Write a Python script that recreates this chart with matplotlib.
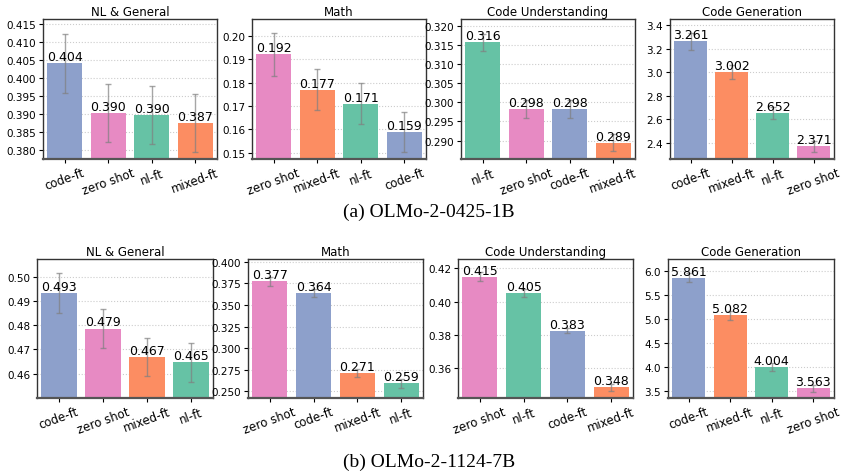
import numpy as np
import matplotlib.pyplot as plt

# Colores por método (paleta Set2)
colores = {'code-ft': '#8da0cb', 'zero shot': '#e78ac3',
           'nl-ft': '#66c2a5', 'mixed-ft': '#fc8d62'}

titulos = ['NL & General', 'Math', 'Code Understanding', 'Code Generation']

# OLMo-2-0425-1B
a_metodos = [
    ['code-ft', 'zero shot', 'nl-ft', 'mixed-ft'],
    ['zero shot', 'mixed-ft', 'nl-ft', 'code-ft'],
    ['nl-ft', 'zero shot', 'code-ft', 'mixed-ft'],
    ['code-ft', 'mixed-ft', 'nl-ft', 'zero shot'],
]
a_valores = [
    [0.4041, 0.3902, 0.3897, 0.3874],
    [0.1921, 0.1770, 0.1710, 0.1589],
    [0.3156, 0.2983, 0.2983, 0.2894],
    [3.261, 3.002, 2.652, 2.371],
]
a_errores = [
    [0.0082, 0.0081, 0.0081, 0.0080],
    [0.0091, 0.0087, 0.0089, 0.0086],
    [0.0022, 0.0024, 0.0024, 0.0022],
    [0.070, 0.060, 0.050, 0.045],
]
a_ylims = [(0.3774, 0.4164), (0.1473, 0.2072), (0.2852, 0.3217), (2.264, 3.451)]
a_yticks = [
    [0.380, 0.385, 0.390, 0.395, 0.400, 0.405, 0.410, 0.415],
    [0.15, 0.16, 0.17, 0.18, 0.19, 0.20],
    [0.290, 0.295, 0.300, 0.305, 0.310, 0.315, 0.320],
    [2.4, 2.6, 2.8, 3.0, 3.2, 3.4],
]
a_fmt = ['{:.3f}', '{:.2f}', '{:.3f}', '{:.1f}']

# OLMo-2-1124-7B
b_metodos = [
    ['code-ft', 'zero shot', 'mixed-ft', 'nl-ft'],
    ['zero shot', 'code-ft', 'mixed-ft', 'nl-ft'],
    ['zero shot', 'nl-ft', 'code-ft', 'mixed-ft'],
    ['code-ft', 'mixed-ft', 'nl-ft', 'zero shot'],
]
b_valores = [
    [0.4932, 0.4786, 0.4668, 0.4646],
    [0.3772, 0.3638, 0.2712, 0.2593],
    [0.4150, 0.4053, 0.3825, 0.3484],
    [5.861, 5.082, 4.004, 3.563],
]
b_errores = [
    [0.0083, 0.0080, 0.0080, 0.0079],
    [0.0050, 0.0050, 0.0048, 0.0050],
    [0.0025, 0.0025, 0.0015, 0.0020],
    [0.090, 0.090, 0.080, 0.070],
]
b_ylims = [(0.4499, 0.5073), (0.2423, 0.4031), (0.3419, 0.4256), (3.361, 6.25)]
b_yticks = [
    [0.46, 0.47, 0.48, 0.49, 0.50],
    [0.250, 0.275, 0.300, 0.325, 0.350, 0.375, 0.400],
    [0.36, 0.38, 0.40, 0.42],
    [3.5, 4.0, 4.5, 5.0, 5.5, 6.0],
]
b_fmt = ['{:.2f}', '{:.3f}', '{:.2f}', '{:.1f}']

fig = plt.figure(figsize=(8.44, 4.77), dpi=100)
W, H = 844, 477


def panel(rect, titulo, metodos, valores, errores, ylim, yticks, fmt):
    x0, y0, x1, y1 = rect
    ax = fig.add_axes([x0 / W, 1 - y1 / H, (x1 - x0) / W, (y1 - y0) / H])
    pos = np.arange(len(metodos))
    ax.bar(pos, valores, width=0.8, color=[colores[m] for m in metodos],
           zorder=2)
    ax.errorbar(pos, valores, yerr=errores, fmt='none', ecolor='gray',
                elinewidth=1, capsize=2, alpha=0.7, zorder=3)
    for p, v in zip(pos, valores):
        ax.text(p, v, f'{v:.3f}', ha='center', va='bottom', fontsize=9,
                zorder=4)
    ax.set_ylim(*ylim)
    ax.set_yticks(yticks)
    ax.set_yticklabels([fmt.format(t) for t in yticks])
    ax.set_xlim(-0.5, len(metodos) - 0.5)
    ax.set_xticks(pos)
    ax.set_xticklabels(metodos, rotation=20, ha='center', fontsize=8.5)
    ax.tick_params(axis='y', labelsize=7.5, length=3, pad=2)
    ax.tick_params(axis='x', length=3, pad=2)
    ax.yaxis.grid(True, linestyle=':', color='#cccccc', linewidth=0.8, zorder=0)
    ax.set_axisbelow(True)
    for s in ax.spines.values():
        s.set_color('#333333')
        s.set_linewidth(1.0)
    ax.spines['bottom'].set_linewidth(1.6)
    ax.spines['bottom'].set_color('#555555')
    ax.set_title(titulo, fontsize=8.5, pad=3)
    return ax


top_rects = [(43, 20, 217, 160), (252, 20, 426, 160),
             (461, 20, 635, 160), (670, 20, 834, 160)]
bot_rects = [(37, 260, 213, 399), (248, 260, 423, 399),
             (458, 260, 633, 399), (668, 260, 834, 399)]

for i in range(4):
    panel(top_rects[i], titulos[i], a_metodos[i], a_valores[i],
          a_errores[i], a_ylims[i], a_yticks[i], a_fmt[i])
    panel(bot_rects[i], titulos[i], b_metodos[i], b_valores[i],
          b_errores[i], b_ylims[i], b_yticks[i], b_fmt[i])

fig.text(429 / W, 1 - 212 / H, '(a) OLMo-2-0425-1B', ha='center', va='center',
         fontsize=14, family='Liberation Serif')
fig.text(429 / W, 1 - 462 / H, '(b) OLMo-2-1124-7B', ha='center', va='center',
         fontsize=14, family='Liberation Serif')

fig.savefig('out.png', dpi=100)
